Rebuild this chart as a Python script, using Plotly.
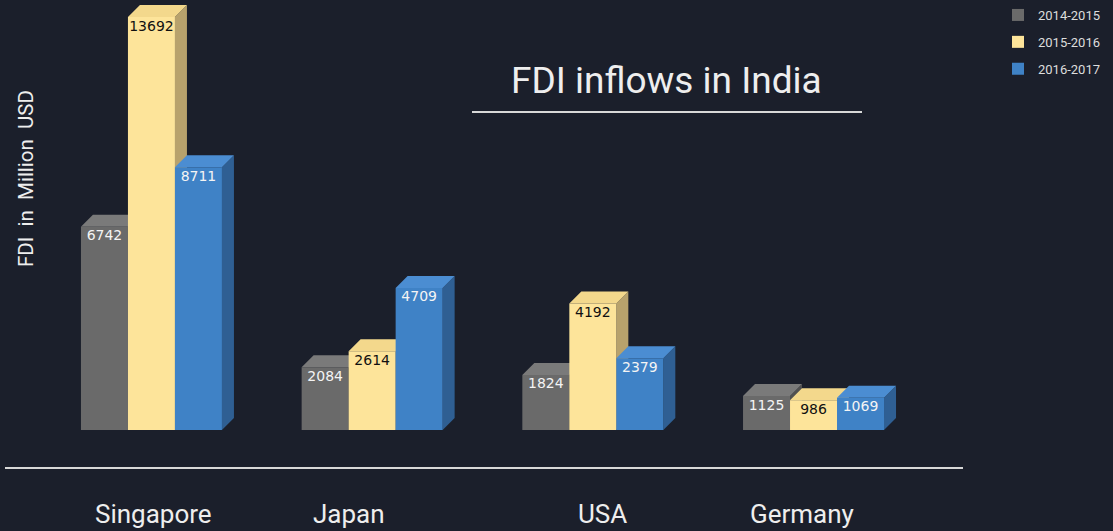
import plotly.graph_objects as go

countries = ["Singapore", "Japan", "USA", "Germany"]
series_names = ["2014-2015", "2015-2016", "2016-2017"]
fdi_2014_15 = [6742, 2084, 1824, 1125]
fdi_2015_16 = [13692, 2614, 4192, 986]
fdi_2016_17 = [8711, 4709, 2379, 1069]

series_values = [fdi_2014_15, fdi_2015_16, fdi_2016_17]
front_colors = ["#6a6a6a", "#fde49a", "#3f82c6"]
top_colors = ["#7a7a7a", "#f3d88c", "#4b8dd2"]
side_colors = ["#505050", "#b8a26c", "#2f5f93"]
text_colors = ["#f4f4f4", "#111111", "#f4f4f4"]

BG = "#1b1f2b"
W, H = 1113, 531
ML, MR, MT, MB = 8, 145, 0, 61
PW, PH = W - ML - MR, H - MT - MB
XR = [-0.65, 3.7]
YR = [-1326, 14257]
px_x = PW / (XR[1] - XR[0])
px_y = PH / (YR[1] - YR[0])
bw = 47 / px_x
dx = 12 / px_x
dy = 12 / px_y
label_pad = 3 / px_y

fig = go.Figure()

for gi in range(len(countries)):
    for si in range(3):
        v = series_values[si][gi]
        x0 = gi + (si - 1.5) * bw
        x1 = x0 + bw
        # side face
        fig.add_trace(go.Scatter(
            x=[x1, x1 + dx, x1 + dx, x1, x1], y=[0, dy, v + dy, v, 0],
            fill="toself", fillcolor=side_colors[si], mode="lines",
            line=dict(width=0, color=side_colors[si]), showlegend=False, hoverinfo="skip"))
        # top face
        fig.add_trace(go.Scatter(
            x=[x0, x1, x1 + dx, x0 + dx, x0], y=[v, v, v + dy, v + dy, v],
            fill="toself", fillcolor=top_colors[si], mode="lines",
            line=dict(width=0, color=top_colors[si]), showlegend=False, hoverinfo="skip"))
        # front face
        fig.add_trace(go.Scatter(
            x=[x0, x1, x1, x0, x0], y=[0, 0, v, v, 0],
            fill="toself", fillcolor=front_colors[si], mode="lines",
            line=dict(width=0, color=front_colors[si]), showlegend=False,
            name=series_names[si], hovertemplate=f"{countries[gi]}: {v}<extra>{series_names[si]}</extra>"))
        # value label
        fig.add_trace(go.Scatter(
            x=[(x0 + x1) / 2], y=[v - label_pad], mode="text", text=[str(v)],
            textposition="bottom center",
            textfont=dict(family="DejaVu Sans", size=14, color=text_colors[si]),
            showlegend=False, hoverinfo="skip"))

# legend entries
for si in range(3):
    fig.add_trace(go.Scatter(
        x=[None], y=[None], mode="markers", name=series_names[si],
        marker=dict(symbol="square", size=14, color=front_colors[si]),
        legendgroup=series_names[si], showlegend=True))

def pxx(p):
    return (p - ML) / PW

def pxy(p):
    return 1 - (p - MT) / PH

annotations = [
    dict(text="FDI inflows in India", xref="paper", yref="paper",
         x=pxx(666), y=pxy(81), xanchor="center", yanchor="middle", showarrow=False,
         font=dict(family="Roboto", size=37, color="#eeeeee")),
    dict(text="FDI  in  Million  USD", xref="paper", yref="paper",
         x=pxx(26), y=pxy(179), xanchor="center", yanchor="middle", showarrow=False,
         textangle=-90, font=dict(family="Roboto", size=20.5, color="#eeeeee")),
]
label_shift = [2, -23, 10, -12]
for gi, c in enumerate(countries):
    annotations.append(dict(
        text=c, xref="x", yref="paper", x=gi, xshift=label_shift[gi],
        y=pxy(514), xanchor="center", yanchor="middle", showarrow=False,
        font=dict(family="Roboto", size=26, color="#eeeeee")))

shapes = [
    dict(type="line", xref="paper", yref="paper", x0=pxx(472), x1=pxx(862),
         y0=pxy(112), y1=pxy(112), line=dict(color="#d8d8d8", width=2)),
    dict(type="line", xref="paper", yref="paper", x0=pxx(5), x1=pxx(963),
         y0=pxy(468), y1=pxy(468), line=dict(color="#d8d8d8", width=2)),
]

fig.update_layout(
    width=W, height=H,
    margin=dict(l=ML, r=MR, t=MT, b=MB),
    paper_bgcolor=BG, plot_bgcolor=BG,
    xaxis=dict(range=XR, visible=False, fixedrange=True),
    yaxis=dict(range=YR, visible=False, fixedrange=True),
    showlegend=True,
    legend=dict(x=pxx(998), y=1.0, xanchor="left", yanchor="top",
                font=dict(family="Roboto", size=13, color="#dddddd"),
                bgcolor="rgba(0,0,0,0)", tracegroupgap=7, traceorder="grouped",
                itemsizing="constant"),
    annotations=annotations,
    shapes=shapes,
)

fig.write_html(
    "out.html",
    config={"displayModeBar": False},
    post_script="document.body.style.margin='0';document.body.style.padding='0';"
                "document.body.style.overflow='hidden';document.body.style.background='" + BG + "';",
)
